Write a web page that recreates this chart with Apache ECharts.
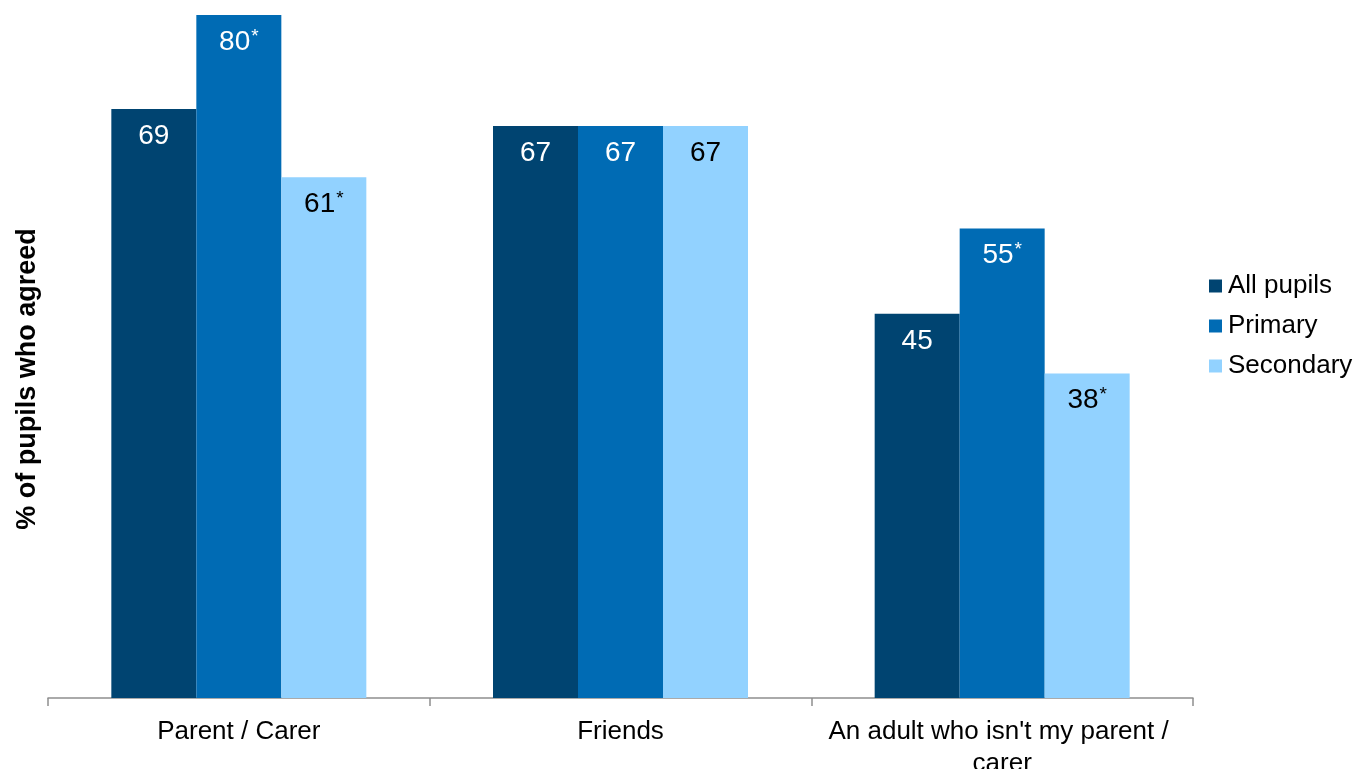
<!DOCTYPE html>
<html>
<head>
<meta charset="utf-8">
<script src="https://cdn.jsdelivr.net/npm/echarts@6/dist/echarts.min.js"></script>
<style>
html,body{margin:0;padding:0;background:#fff;}
#chart{width:1358px;height:769px;}
</style>
</head>
<body>
<div id="chart"></div>
<script>
// ---- data ----
const categories = ['Parent / Carer', 'Friends', "An adult who isn't my parent / carer"];
const seriesNames = ['All pupils', 'Primary', 'Secondary'];
const allPupils = [69, 67, 45];
const primary = [80, 67, 55];
const secondary = [61, 67, 38];
// significance markers (asterisk) per bar
const allPupilsSig = [false, false, false];
const primarySig = [true, false, true];
const secondarySig = [true, false, true];
const yAxisTitle = '% of pupils who agreed';

const colors = ['#004471', '#006BB4', '#92D2FF'];
const FONT = '"Liberation Sans", Arial, sans-serif';

function makeLabel(sig, textColor) {
  return {
    show: true,
    position: 'insideTop',
    distance: 12,
    formatter: p => sig[p.dataIndex] ? '{v|' + p.value + '}{s|*}' : '{v|' + p.value + '}',
    rich: {
      v: { fontSize: 28, fontFamily: FONT, color: textColor, lineHeight: 30 },
      s: { fontSize: 19, fontFamily: FONT, color: textColor, verticalAlign: 'top', lineHeight: 30, padding: [0, 0, 13, 1] }
    }
  };
}

const data = [allPupils, primary, secondary];
const sigs = [allPupilsSig, primarySig, secondarySig];
const labelColors = ['#ffffff', '#ffffff', '#000000'];

const chart = echarts.init(document.getElementById('chart'));
chart.setOption({
  animation: false,
  textStyle: { fontFamily: FONT },
  grid: { left: 48, right: 165, top: 15, bottom: 71, outerBoundsMode: 'none', containLabel: false },
  legend: {
    orient: 'vertical',
    left: 1204,
    top: 268,
    icon: 'rect',
    itemWidth: 13,
    itemHeight: 13,
    itemGap: 14,
    textStyle: { fontSize: 26, fontFamily: FONT, color: '#000', lineHeight: 26, padding: [0, 0, 0, 1] },
    data: seriesNames
  },
  xAxis: {
    type: 'category',
    data: categories,
    axisLine: { lineStyle: { color: '#8f8f8f', width: 1.5 } },
    axisTick: { show: true, length: 8, lineStyle: { color: '#8f8f8f', width: 1.5 } },
    axisLabel: {
      fontSize: 26, fontFamily: FONT, color: '#000', margin: 18,
      lineHeight: 32, width: 370, overflow: 'break', interval: 0
    }
  },
  yAxis: {
    type: 'value',
    min: 0,
    max: 80,
    show: false
  },
  graphic: [{
    type: 'text',
    x: 28,
    y: 379,
    rotation: Math.PI / 2,
    style: {
      text: yAxisTitle,
      fontSize: 27,
      fontWeight: 'bold',
      fontFamily: FONT,
      fill: '#000',
      align: 'center',
      verticalAlign: 'middle'
    }
  }],
  series: seriesNames.map((name, i) => ({
    name: name,
    type: 'bar',
    data: data[i],
    barWidth: 85,
    barGap: '0%',
    itemStyle: { color: colors[i] },
    label: makeLabel(sigs[i], labelColors[i])
  }))
});
</script>
</body>
</html>
